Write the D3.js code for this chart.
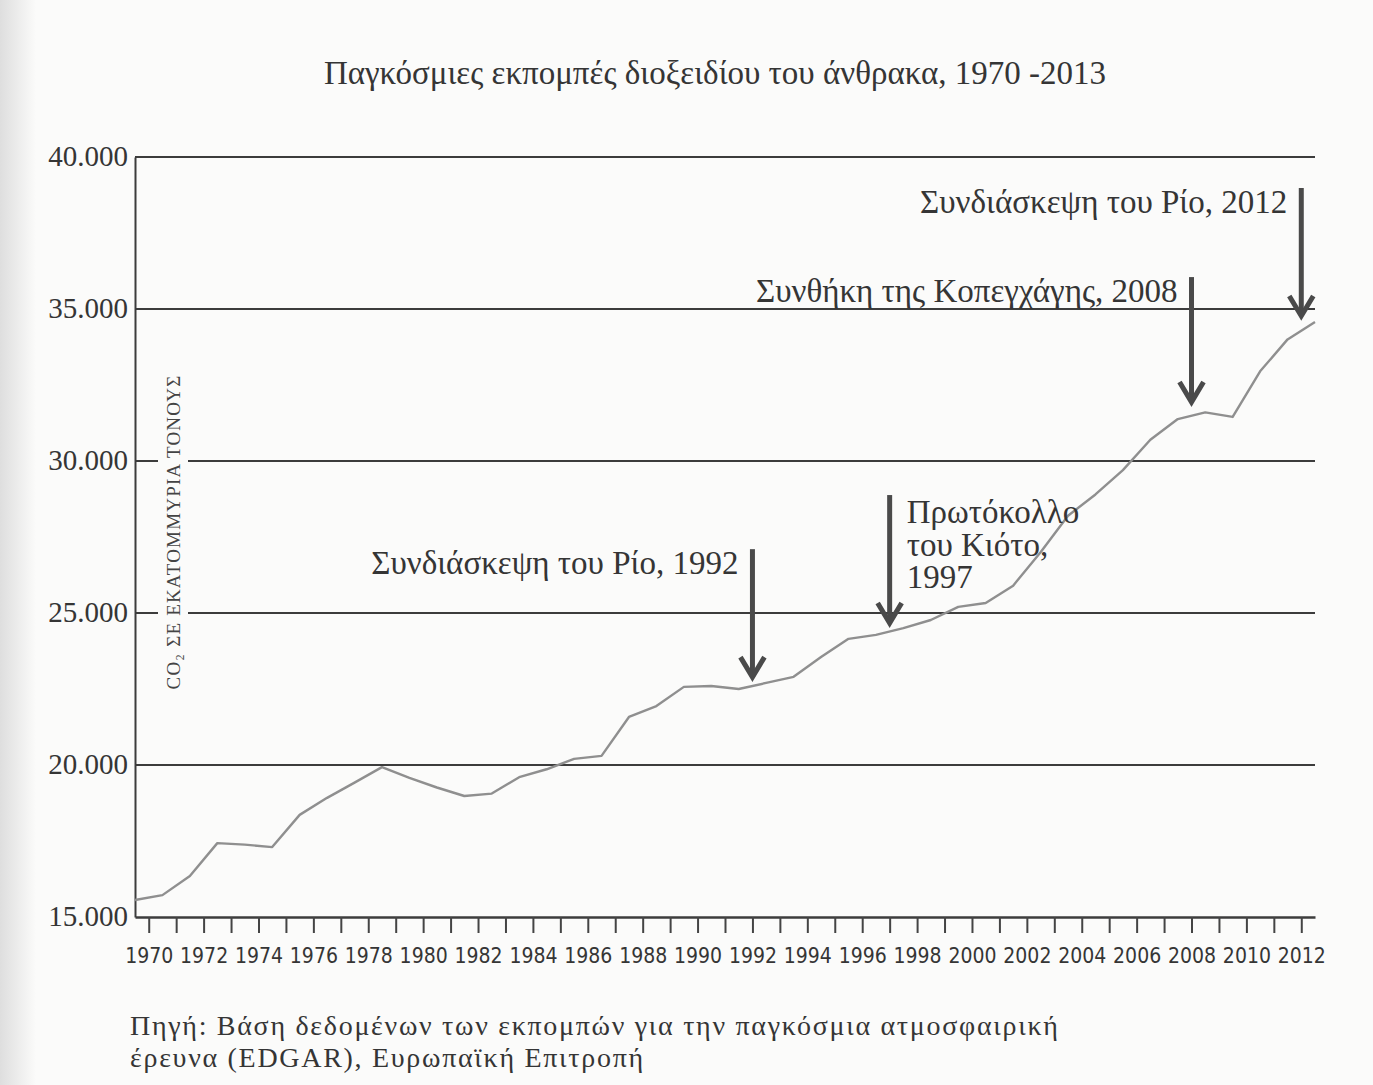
<!DOCTYPE html>
<html>
<head>
<meta charset="utf-8">
<script src="https://cdn.jsdelivr.net/npm/d3@7"></script>
<style>
  html, body { margin: 0; padding: 0; background: #fbfbfa; }
  svg { display: block; }
</style>
</head>
<body>
<script>
// years and emissions (million tonnes CO2)
var years = [1970, 1971, 1972, 1973, 1974, 1975, 1976, 1977, 1978, 1979,
             1980, 1981, 1982, 1983, 1984, 1985, 1986, 1987, 1988, 1989,
             1990, 1991, 1992, 1993, 1994, 1995, 1996, 1997, 1998, 1999,
             2000, 2001, 2002, 2003, 2004, 2005, 2006, 2007, 2008, 2009,
             2010, 2011, 2012, 2013];
var emissions = [15560, 15720, 16350, 17430, 17380, 17300, 18360, 18920, 19420, 19930,
                 19580, 19260, 18980, 19060, 19600, 19860, 20200, 20300, 21580, 21940,
                 22570, 22600, 22500, 22700, 22900, 23550, 24150, 24280, 24500, 24770,
                 25200, 25330, 25900, 27000, 28200, 28900, 29700, 30700, 31380, 31600,
                 31450, 32950, 34000, 34570];

var yTicks = [15000, 20000, 25000, 30000, 35000, 40000];

// events marked with arrows
var eventYears = [1992, 1997, 2008, 2012];
var eventTop = [27100, 28880, 36050, 38980];
var eventTip = [22890, 24670, 31940, 34770];
var eventLabels = [
  ["Συνδιάσκεψη του Ρίο, 1992"],
  ["Πρωτόκολλο", "του Κιότο,", "1997"],
  ["Συνθήκη της Κοπεγχάγης, 2008"],
  ["Συνδιάσκεψη του Ρίο, 2012"]
];
var eventSide = ["left", "right", "left", "left"];

var title = "Παγκόσμιες εκπομπές διοξειδίου του άνθρακα, 1970 -2013";
var yTitle = "CO₂ ΣΕ ΕΚΑΤΟΜΜΥΡΙΑ ΤΟΝΟΥΣ";
var source = ["Πηγή: Βάση δεδομένων των εκπομπών για την παγκόσμια ατμοσφαιρική",
              "έρευνα (EDGAR), Ευρωπαϊκή Επιτροπή"];

(function () {
  var W = 1373, H = 1085;
  var mLeft = 135, mRight = 1315, mTop = 157, mBottom = 917;
  var serif = "'Liberation Serif', 'Times New Roman', serif";
  var ink = "#353535";
  var paper = "#fbfbfa";

  var svg = d3.select("body").append("svg")
      .attr("width", W)
      .attr("height", H);

  // scanned page shading on the left edge
  var grad = svg.append("defs").append("linearGradient")
      .attr("id", "edge").attr("x1", 0).attr("x2", 1).attr("y1", 0).attr("y2", 0);
  grad.append("stop").attr("offset", 0).attr("stop-color", "#dedede");
  grad.append("stop").attr("offset", 1).attr("stop-color", paper);
  svg.append("rect").attr("width", W).attr("height", H).attr("fill", paper);
  svg.append("rect").attr("width", 36).attr("height", H).attr("fill", "url(#edge)");

  var x = d3.scaleLinear().domain([1970, 2013]).range([mLeft, mRight]);
  var y = d3.scaleLinear().domain([15000, 40000]).range([mBottom, mTop]);

  svg.append("text")
      .attr("x", 715).attr("y", 84)
      .attr("text-anchor", "middle")
      .attr("font-family", serif).attr("font-size", 33)
      .attr("fill", ink)
      .text(title);

  // horizontal grid lines
  svg.append("g").selectAll("line")
    .data(yTicks.slice(1))
    .enter().append("line")
      .attr("x1", mLeft).attr("x2", mRight)
      .attr("y1", function(d){ return y(d); })
      .attr("y2", function(d){ return y(d); })
      .attr("stroke", "#3c3c3c").attr("stroke-width", 2);

  // y axis
  var yAxis = svg.append("g")
      .attr("transform", "translate(" + mLeft + ",0)")
      .call(d3.axisLeft(y).tickValues(yTicks).tickSize(0).tickPadding(7)
        .tickFormat(function(d){ return d3.format(",")(d).replace(",", "."); }));
  yAxis.select(".domain").attr("stroke", "#3c3c3c").attr("stroke-width", 2);
  yAxis.selectAll("text")
      .attr("font-family", serif).attr("font-size", 29)
      .attr("fill", ink).attr("dy", "0.3em");

  // x axis: one tick per year, label every second year
  var tickYears = years.slice(0, years.length - 1);
  var xAxis = svg.append("g")
      .attr("transform", "translate(0," + mBottom + ")")
      .call(d3.axisBottom(x)
        .tickValues(tickYears.map(function(d){ return d + 0.5; }))
        .tickSize(16).tickSizeOuter(0).tickPadding(15)
        .tickFormat(function(d){ var yr = Math.floor(d); return yr % 2 === 0 ? yr : ""; }));
  xAxis.select(".domain").attr("stroke", "#3c3c3c").attr("stroke-width", 2.5);
  xAxis.selectAll(".tick line").attr("stroke", "#444").attr("stroke-width", 2);
  xAxis.selectAll("text")
      .attr("font-family", "'Liberation Sans Narrow', 'DejaVu Sans Condensed', sans-serif")
      .attr("font-stretch", "condensed")
      .attr("font-size", 21).attr("fill", ink);

  // rotated y title with page-coloured backing that breaks the grid lines
  var yt = svg.append("g").attr("transform", "translate(180,532) rotate(-90)");
  yt.append("rect")
      .attr("x", -172).attr("y", -22).attr("width", 344).attr("height", 30)
      .attr("fill", paper);
  yt.append("text")
      .attr("text-anchor", "middle")
      .attr("font-family", serif).attr("font-size", 19)
      .attr("letter-spacing", 1.2)
      .attr("fill", "#444")
      .text(yTitle);

  // emissions line
  var line = d3.line()
      .x(function(d, i){ return x(years[i]); })
      .y(function(d){ return y(d); });
  svg.append("path")
      .datum(emissions)
      .attr("d", line)
      .attr("fill", "none")
      .attr("stroke", "#8f8f8f")
      .attr("stroke-width", 2.4)
      .attr("stroke-linejoin", "round");

  // event arrows and labels
  var ev = svg.append("g").selectAll("g")
    .data(eventYears)
    .enter().append("g");

  ev.append("line")
      .attr("x1", function(d){ return x(d + 0.5); })
      .attr("x2", function(d){ return x(d + 0.5); })
      .attr("y1", function(d, i){ return y(eventTop[i]); })
      .attr("y2", function(d, i){ return y(eventTip[i]) - 4; })
      .attr("stroke", "#4a4a4a").attr("stroke-width", 5);

  ev.append("path")
      .attr("d", function(d, i){
        var ax = x(d + 0.5), ay = y(eventTip[i]);
        return "M" + (ax - 12) + "," + (ay - 20) + "L" + ax + "," + ay + "L" + (ax + 12) + "," + (ay - 20);
      })
      .attr("fill", "none")
      .attr("stroke", "#4a4a4a").attr("stroke-width", 5)
      .attr("stroke-linejoin", "miter");

  ev.each(function(d, i){
    var g = d3.select(this);
    var ax = x(d + 0.5), ay = y(eventTop[i]);
    var isLeft = eventSide[i] === "left";
    var t = g.append("text")
        .attr("font-family", serif).attr("font-size", 33)
        .attr("fill", ink)
        .attr("text-anchor", isLeft ? "end" : "start");
    eventLabels[i].forEach(function(s, k){
      t.append("tspan")
        .attr("x", isLeft ? ax - 14 : ax + 17)
        .attr("y", ay + (isLeft ? 25 : 28) + k * 32.5)
        .text(s);
    });
  });

  // source note
  var src = svg.append("text")
      .attr("font-family", serif).attr("font-size", 28)
      .attr("letter-spacing", 1.7)
      .attr("fill", ink);
  source.forEach(function(s, k){
    src.append("tspan").attr("x", 130).attr("y", 1035 + k * 32).text(s);
  });
})();
</script>
</body>
</html>
